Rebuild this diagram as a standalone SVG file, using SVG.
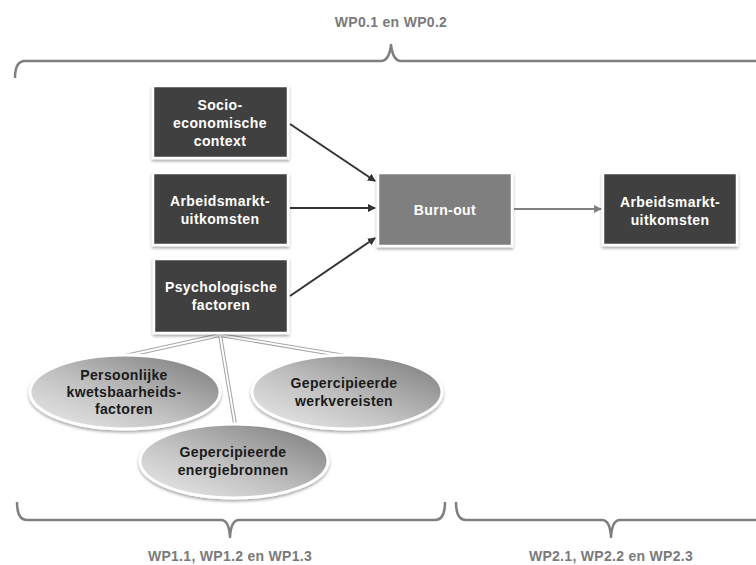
<svg xmlns="http://www.w3.org/2000/svg" width="756" height="565" viewBox="0 0 756 565">
<defs>
<style>
.box{fill:#3f3f3f;stroke:#ffffff;stroke-width:2.5;filter:url(#sh)}
.burn{fill:#7f7f7f;stroke:#ffffff;stroke-width:2.5;filter:url(#sh)}
.bt{font-family:"Liberation Sans",Arial,sans-serif;font-weight:bold;font-size:14px;fill:#ffffff;text-anchor:middle;letter-spacing:0.4px}
.et{font-family:"Liberation Sans",Arial,sans-serif;font-weight:bold;font-size:14px;fill:#1a1a1a;text-anchor:middle;letter-spacing:0.35px}
.wp{font-family:"Liberation Sans",Arial,sans-serif;font-weight:bold;font-size:14px;fill:#7a7a7a;text-anchor:middle;letter-spacing:0.3px}
.ell{fill:url(#eg);stroke:#ffffff;stroke-width:3;filter:url(#sh)}
.brace{fill:none;stroke:#7f7f7f;stroke-width:2.5;stroke-linejoin:round}
.arr{stroke:#333333;stroke-width:2;fill:none;marker-end:url(#ah)}
.arr2{stroke:#808080;stroke-width:2;fill:none;marker-end:url(#ah2)}
.lnk{stroke:#a8a8a8;stroke-width:4;fill:none}
.lnkw{stroke:#ffffff;stroke-width:1.8;fill:none}
</style>
<filter id="sh" x="-20%" y="-20%" width="140%" height="140%">
<feDropShadow dx="0" dy="2" stdDeviation="1.8" flood-color="#000000" flood-opacity="0.35"/>
</filter>
<linearGradient id="eg" x1="0" y1="1" x2="1" y2="0">
<stop offset="0" stop-color="#ececec"/>
<stop offset="0.45" stop-color="#c0c0c0"/>
<stop offset="1" stop-color="#787878"/>
</linearGradient>
<marker id="ah" markerWidth="8" markerHeight="8" refX="7" refY="4" orient="auto" markerUnits="userSpaceOnUse">
<path d="M0,0 L8,4 L0,8 z" fill="#333333"/>
</marker>
<marker id="ah2" markerWidth="8" markerHeight="8" refX="7" refY="4" orient="auto" markerUnits="userSpaceOnUse">
<path d="M0,0 L8,4 L0,8 z" fill="#808080"/>
</marker>
</defs>
<rect width="756" height="565" fill="#ffffff"/>

<g id="braces">
<path class="brace" d="M15,78 Q15,61 25,61 L381,61 Q389,61 391,45 Q393,61 401,61 L760,61"/>
<path class="brace" d="M17,502 Q17,520 27,520 L221,520 Q229,520 230,537 Q231,520 239,520 L435,520 Q445,520 445,502"/>
<path class="brace" d="M456,502 Q456,520 466,520 L602,520 Q610,520 611,537 Q612,520 620,520 L760,520"/>
</g>
<g id="labels">
<text class="wp" x="391" y="27">WP0.1 en WP0.2</text>
<text class="wp" x="230" y="561">WP1.1, WP1.2 en WP1.3</text>
<text class="wp" x="611" y="561">WP2.1, WP2.2 en WP2.3</text>
</g>

<g id="connectors">
<line class="arr" x1="290" y1="124" x2="375" y2="181"/>
<line class="arr" x1="290" y1="208" x2="375" y2="208"/>
<line class="arr" x1="290" y1="296" x2="375" y2="238"/>
<line class="arr2" x1="514" y1="209" x2="601" y2="209"/>
<path class="lnk" d="M220,335 L125,356 M220,335 L345,356 M220,335 L235,424"/>
<path class="lnkw" d="M220,335 L125,356 M220,335 L345,356 M220,335 L235,424"/>
</g>

<g id="socio">
<rect class="box" x="153" y="86" width="135" height="72"/>
<text class="bt" x="220" y="110">Socio-</text>
<text class="bt" x="220" y="128">economische</text>
<text class="bt" x="220" y="146">context</text>
</g>
<g id="arbeidsmarkt-in">
<rect class="box" x="153" y="173" width="135" height="72"/>
<text class="bt" x="220" y="206">Arbeidsmarkt-</text>
<text class="bt" x="220" y="224">uitkomsten</text>
</g>
<g id="psych">
<rect class="box" x="154" y="259" width="134" height="74"/>
<text class="bt" x="221" y="292">Psychologische</text>
<text class="bt" x="221" y="310">factoren</text>
</g>
<g id="burnout">
<rect class="burn" x="378" y="173" width="134" height="73"/>
<text class="bt" x="445" y="215">Burn-out</text>
</g>
<g id="arbeidsmarkt-out">
<rect class="box" x="603" y="173" width="134" height="72"/>
<text class="bt" x="670" y="207">Arbeidsmarkt-</text>
<text class="bt" x="670" y="225">uitkomsten</text>
</g>

<g id="persoonlijke">
<ellipse class="ell" cx="125" cy="392" rx="95" ry="37"/>
<text class="et" x="124" y="380">Persoonlijke</text>
<text class="et" x="124" y="397">kwetsbaarheids-</text>
<text class="et" x="124" y="414">factoren</text>
</g>
<g id="werkvereisten">
<ellipse class="ell" cx="347" cy="392" rx="95" ry="37"/>
<text class="et" x="344" y="388">Gepercipieerde</text>
<text class="et" x="344" y="406">werkvereisten</text>
</g>
<g id="energiebronnen">
<ellipse class="ell" cx="234" cy="461" rx="94" ry="37"/>
<text class="et" x="233" y="457">Gepercipieerde</text>
<text class="et" x="233" y="475">energiebronnen</text>
</g>
</svg>
